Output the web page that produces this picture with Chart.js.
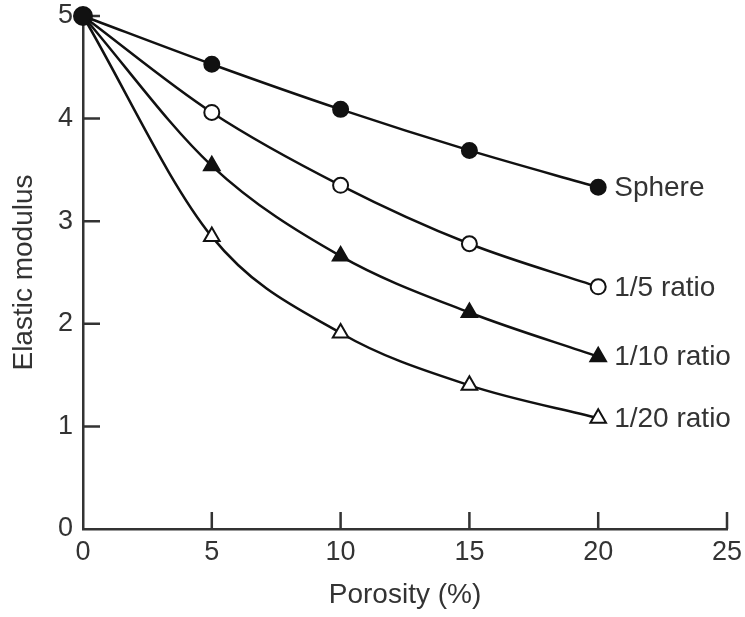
<!DOCTYPE html>
<html>
<head>
<meta charset="utf-8">
<script src="https://cdn.jsdelivr.net/npm/chart.js@4"></script>
<style>
  html, body { margin: 0; padding: 0; background: #fff; }
  #wrap { width: 745px; height: 617px; }
</style>
</head>
<body>
<div id="wrap"><canvas id="chart" width="745" height="617"></canvas></div>
<script>
// dados
const porosity = [0, 5, 10, 15, 20];
const sphere = [5, 4.53, 4.09, 3.69, 3.33];
const ratio5 = [5, 4.06, 3.35, 2.78, 2.36];
const ratio10 = [5, 3.54, 2.66, 2.11, 1.68];
const ratio20 = [5, 2.85, 1.91, 1.40, 1.08];
const seriesNames = ['Sphere', '1/5 ratio', '1/10 ratio', '1/20 ratio'];
const xTicks = [0, 5, 10, 15, 20, 25];
const yTicks = [0, 1, 2, 3, 4, 5];

const FONT = "'Liberation Sans', Arial, Helvetica, sans-serif";
const TEXT = '#333';
const LINE = '#111';

function toPoints(ys) {
    return porosity.map((x, i) => ({ x: x, y: ys[i] }));
}

// marcas para dentro do gráfico
const innerTicks = {
    id: 'innerTicks',
    beforeDatasetsDraw(chart) {
        const ctx = chart.ctx;
        const xs = chart.scales.x, ys = chart.scales.y;
        const x0 = xs.getPixelForValue(0), y0 = ys.getPixelForValue(0);
        ctx.save();
        ctx.strokeStyle = TEXT;
        ctx.lineWidth = 2.5;
        ctx.beginPath();
        yTicks.slice(1).forEach(v => {
            const y = ys.getPixelForValue(v);
            ctx.moveTo(x0, y);
            ctx.lineTo(x0 + 17, y);
        });
        xTicks.slice(1).forEach(v => {
            const x = xs.getPixelForValue(v);
            ctx.moveTo(x, y0);
            ctx.lineTo(x, y0 - 17);
        });
        ctx.stroke();
        ctx.restore();
    }
};

// nomes das curvas no fim de cada linha
const endLabels = {
    id: 'endLabels',
    afterDatasetsDraw(chart) {
        const ctx = chart.ctx;
        ctx.save();
        ctx.font = '28px ' + FONT;
        ctx.fillStyle = TEXT;
        ctx.textAlign = 'left';
        ctx.textBaseline = 'middle';
        chart.data.datasets.forEach((ds, i) => {
            const meta = chart.getDatasetMeta(i);
            const last = meta.data[meta.data.length - 1];
            ctx.fillText(ds.label, last.x + 16, last.y + 1);
        });
        ctx.restore();
    }
};

function makeSet(label, ys, style, filled) {
    return {
        label: label,
        data: toPoints(ys),
        borderColor: LINE,
        borderWidth: 2.5,
        cubicInterpolationMode: 'monotone',
        fill: false,
        clip: false,
        pointStyle: style,
        pointRadius: ys.map((v, i) => i === 0 ? 0 : (style === 'triangle' ? 9 : 7.5)),
        pointBackgroundColor: filled ? LINE : '#fff',
        pointBorderColor: LINE,
        pointBorderWidth: 2
    };
}

const datasets = [
    makeSet(seriesNames[0], sphere, 'circle', true),
    makeSet(seriesNames[1], ratio5, 'circle', false),
    makeSet(seriesNames[2], ratio10, 'triangle', true),
    makeSet(seriesNames[3], ratio20, 'triangle', false)
];
// ponto inicial comum
datasets[0].pointRadius[0] = 9;

const ctx = document.getElementById('chart').getContext('2d');
const chart = new Chart(ctx, {
    type: 'line',
    data: { datasets: datasets },
    options: {
        responsive: false,
        animation: false,
        events: [],
        layout: { padding: { left: 0, top: 0, right: 0, bottom: 5 } },
        plugins: { legend: { display: false }, tooltip: { enabled: false } },
        scales: {
            x: {
                type: 'linear',
                min: 0, max: 25,
                afterFit: s => { s.height = 617 - 529 - 5; s.paddingRight = 18; s.paddingLeft = 0; },
                afterBuildTicks: s => { s.ticks = xTicks.map(v => ({ value: v })); },
                grid: { display: false, drawTicks: false },
                border: { display: true, color: TEXT, width: 2.5 },
                ticks: { color: TEXT, padding: 7, maxRotation: 0, font: { family: FONT, size: 27 } },
                title: { display: true, text: 'Porosity (%)', color: TEXT, padding: 0, font: { family: FONT, size: 28 } }
            },
            y: {
                type: 'linear',
                min: 0, max: 5,
                afterFit: s => { s.width = 83; s.paddingTop = 16; s.paddingBottom = 0; },
                afterBuildTicks: s => { s.ticks = yTicks.map(v => ({ value: v })); },
                grid: { display: false, drawTicks: false },
                border: { display: true, color: TEXT, width: 2.5 },
                ticks: { color: TEXT, padding: 10, font: { family: FONT, size: 27 } },
                title: { display: true, text: 'Elastic modulus', color: TEXT, padding: { top: 7 }, font: { family: FONT, size: 28 } }
            }
        }
    },
    plugins: [innerTicks, endLabels]
});
</script>
</body>
</html>
